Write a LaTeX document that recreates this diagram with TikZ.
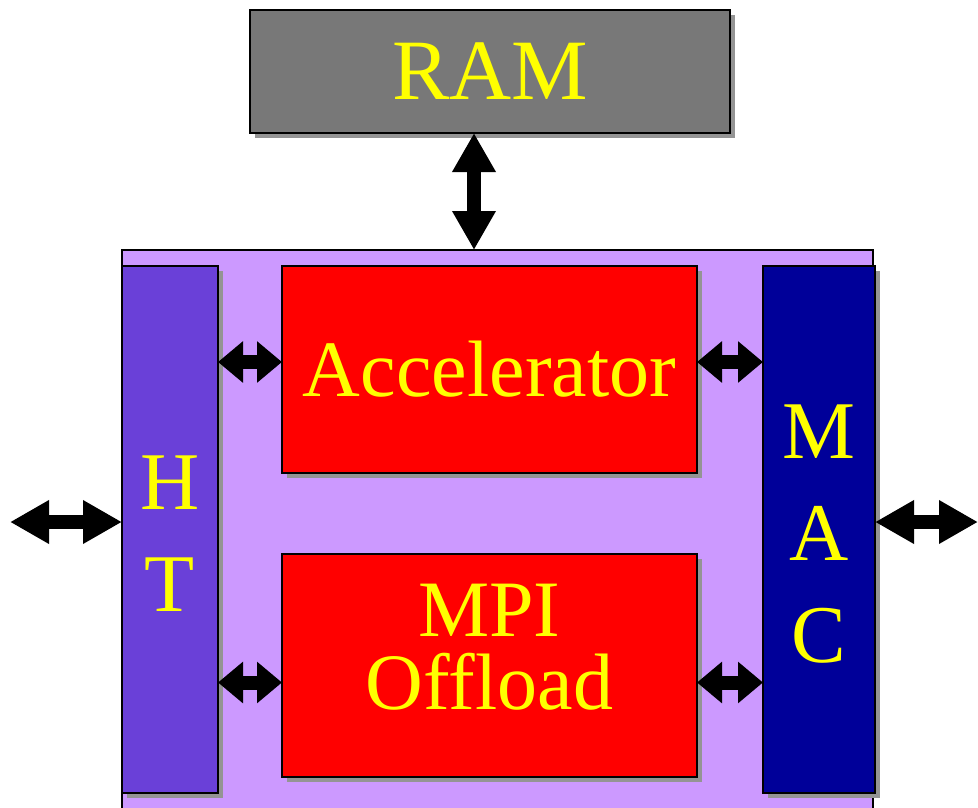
\documentclass[tikz,border=0pt]{standalone}
\usepackage{fontspec}
\setmainfont{Liberation Serif}
\usetikzlibrary{arrows.meta,positioning,shadows}
\definecolor{RamGray}{HTML}{787878}
\definecolor{ChipPurple}{HTML}{CC99FF}
\definecolor{HtPurple}{HTML}{6A40D8}
\definecolor{MacBlue}{HTML}{000099}
\definecolor{LabelYellow}{HTML}{FFFF00}
\tikzset{
  block/.style={rectangle, draw=black, line width=2.6pt, inner sep=0pt,
    outer sep=0pt, text=LabelYellow, align=center,
    font=\fontsize{80}{73}\selectfont,
    drop shadow={shadow xshift=5pt, shadow yshift=-5pt, fill=black!42, opacity=1}},
  ram/.style={block, fill=RamGray, minimum width=480pt, minimum height=123pt,
    font=\fontsize{86}{86}\selectfont},
  engine/.style={block, fill=red, minimum width=415pt},
  port/.style={block, minimum height=527pt, font=\fontsize{82}{102}\selectfont},
  chip/.style={rectangle, draw=black, line width=1.8pt, fill=ChipPurple,
    inner sep=0pt, outer sep=0pt, minimum width=751pt, minimum height=570pt},
  bus/.style={draw, line width=14pt,
    {Triangle[length=25pt,width=40pt]}-{Triangle[length=25pt,width=40pt]}},
  bigbus/.style={draw, line width=14pt,
    {Triangle[length=39pt,width=41pt]}-{Triangle[length=39pt,width=41pt]}}
}
\begin{document}
\begin{tikzpicture}[x=1pt, y=-1pt]
\useasboundingbox (0,0) rectangle (978,807);

\node[ram] (ram) at (490,71.5) {RAM};
\node[chip] (chip) at (497.5,535) {};

\node[port, fill=HtPurple, minimum width=96pt] (ht) at (170,529.5)
  {\rule{0pt}{62pt}H\\T};
\node[port, fill=MacBlue, minimum width=112pt] (mac) at (819,529.5)
  {\rule{0pt}{62pt}M\\A\\C};

\node[engine, minimum height=207pt] (accel) at (489.5,369.5) {Accelerator};
\node[engine, minimum height=223pt] (mpi) at (489.5,665.5)
  {MPI\\Offload\rule[-38pt]{0pt}{1pt}};

\coordinate (hostlink) at (10,522);
\coordinate (netlink) at (978,522);

\draw[bigbus] ([xshift=-16pt]ram.south) -- ([xshift=-16pt]ram.south |- chip.north);
\draw[bigbus] (hostlink) -- (hostlink -| ht.west);
\draw[bigbus] (netlink -| mac.east) -- (netlink);
\draw[bus] ([yshift=7.5pt]ht.east |- accel) -- ([yshift=7.5pt]accel.west);
\draw[bus] ([yshift=7.5pt]accel.east) -- ([yshift=7.5pt]mac.west |- accel);
\draw[bus] ([yshift=-17pt]ht.east |- mpi) -- ([yshift=-17pt]mpi.west);
\draw[bus] ([yshift=-17pt]mpi.east) -- ([yshift=-17pt]mac.west |- mpi);

\end{tikzpicture}
\end{document}
